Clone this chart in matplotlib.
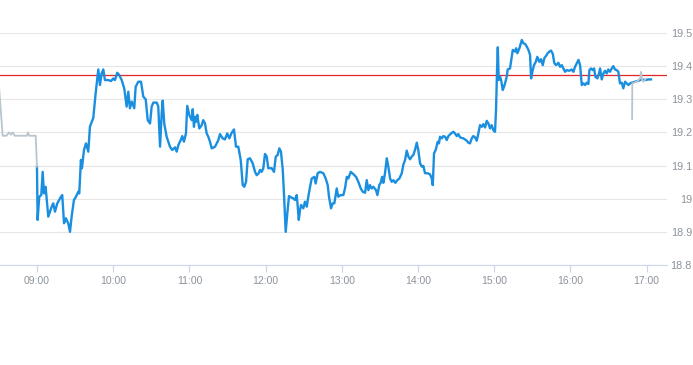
import matplotlib
matplotlib.use("Agg")
import matplotlib.pyplot as plt
from matplotlib.ticker import FixedLocator, FuncFormatter

# minutes after 08:00 and price
pre_min = [30, 33, 36, 38, 39.5, 41, 42.5, 52, 53, 54, 59, 60]
pre_px = [19.345, 19.19, 19.19, 19.20, 19.193, 19.20, 19.19, 19.19, 19.20, 19.19, 19.19, 19.097]

session_min = [
    60, 60.5, 61.8, 63.4, 64.5, 65.5, 66.8, 68.9, 71.6, 72.8, 74.2, 76, 78.9, 79.9, 81.3, 82.8,
    84.6, 86, 87.3, 89.1, 90.7, 92.5, 93.3, 94.6, 95.4, 97, 98.6, 100.4, 101.7, 103.1, 104.3,
    106.2, 108.3, 109.6, 110.9, 112.2, 113.5, 116.1, 118.3, 120.1, 121.4, 123.2, 124.8, 126.7,
    128.7, 130.6, 131.9, 133.2, 134.6, 136.6, 137.7, 139.8, 141.9, 143.7, 145.6, 147.2, 149,
    150.3, 151.6, 154.3, 155.5, 156.9, 158.2, 159, 160.2, 162.1, 164.7, 166.5, 168.7, 170,
    171.3, 173.2, 174.4, 175.7, 177.3, 178.3, 179.9, 181.8, 182.6, 183.6, 184.4, 185.2, 186.2,
    187.8, 189.7, 190.9, 192.3, 193.6, 194.9, 196.2, 197.6, 200.2, 202.8, 204.1, 206.2, 208,
    209.8, 211.4, 213.3, 215.1, 216.7, 218.5, 220.4, 222, 223.2, 224.6, 225.9, 227.7, 229.8,
    231.7, 233, 234.6, 235.6, 236.9, 238.2, 239.5, 240.9, 242.1, 244.8, 246.6, 248, 249.5,
    250.8, 252.1, 253.5, 254.7, 255.8, 257.1, 258.4, 260, 261.8, 263.1, 264.5, 265.3, 266.1,
    267.1, 267.9, 269.7, 271, 272.4, 273.6, 275, 276.3, 278.4, 279.4, 281, 282.8, 285.4, 287.3,
    288.9, 289.9, 291.5, 292.8, 294.1, 296, 297.2, 299.1, 301.2, 302.5, 303.9, 305.1, 307,
    309.1, 311.2, 313, 314.9, 316.5, 318.3, 319.6, 320.9, 322.2, 323.5, 324.8, 326.9, 328,
    329.5, 330.6, 331.7, 332.7, 334, 335.4, 336.6, 338, 339.3, 340.6, 342.1, 343.7, 345.3,
    347.2, 348.4, 349.8, 351.1, 352.4, 353.7, 355, 356.3, 357.6, 359, 360.2, 361.6, 362.9,
    364.2, 365.5, 367.3, 369.4, 370.8, 371.6, 372.6, 373.9, 375.5, 376.5, 377.3, 378.7, 379.9,
    381.3, 382.6, 383.9, 386, 387.8, 389.1, 390.5, 391.7, 393.1, 395.7, 398.4, 399.6, 400.9,
    402.3, 403.5, 404.9, 406.2, 407.5, 408.8, 410.2, 411.4, 412.8, 414.1, 415.4, 416.7, 418,
    419.3, 420.6, 421.4, 422.2, 422.8, 423.5, 424.6, 425.4, 426.7, 427.7, 428.5, 429.8, 430.6,
    432.4, 433.2, 434.6, 436.4, 437.2, 438.2, 439.8, 441.7, 442.9, 444.3, 445.6, 446.9, 448.2,
    449, 450, 451.3, 452.7, 453.9, 455.5, 456.8, 458.2, 459.4, 460.8, 462.1, 463.4, 464.7,
    466.1, 467.3, 468.7, 470.5, 471.8, 473.2, 474.4, 475.8, 477.1, 479.1, 481, 482.3, 483.6,
    485, 486.3, 487.6, 488.9, 490.2, 491.5, 492.8, 494.1, 494.9, 496.2, 497.5, 498.6, 499.6,
    501.2, 502.5, 503.3, 504.6, 505.9, 507.2, 508.5, 509.8, 511.1, 512.5, 513.7, 515.1, 516.4,
    517.7, 519, 520.4, 521.6, 523, 524.3, 525.6, 526.9, 528.2, 530.8, 533.5, 536.1, 538.7,
    541.3, 543.4,
]
session_px = [
    19.097, 18.936, 19.006, 19.011, 19.081, 19.016, 19.036, 18.946, 18.976, 18.986, 18.961,
    18.986, 19.006, 19.011, 18.926, 18.941, 18.926, 18.90, 18.946, 18.996, 19.006, 19.021,
    19.016, 19.117, 19.092, 19.147, 19.167, 19.142, 19.217, 19.232, 19.243, 19.318, 19.390,
    19.343, 19.378, 19.390, 19.358, 19.358, 19.355, 19.363, 19.358, 19.380, 19.373, 19.358,
    19.333, 19.278, 19.323, 19.273, 19.293, 19.273, 19.338, 19.353, 19.353, 19.308, 19.300,
    19.237, 19.227, 19.278, 19.290, 19.290, 19.278, 19.157, 19.258, 19.296, 19.227, 19.187,
    19.157, 19.147, 19.155, 19.142, 19.162, 19.177, 19.189, 19.172, 19.197, 19.280, 19.253,
    19.237, 19.270, 19.217, 19.247, 19.232, 19.253, 19.212, 19.222, 19.237, 19.227, 19.197,
    19.187, 19.172, 19.152, 19.157, 19.177, 19.195, 19.182, 19.179, 19.197, 19.182, 19.199,
    19.209, 19.157, 19.157, 19.117, 19.041, 19.036, 19.051, 19.119, 19.122, 19.107, 19.081,
    19.071, 19.077, 19.087, 19.081, 19.092, 19.135, 19.127, 19.092, 19.092, 19.081, 19.127,
    19.132, 19.152, 19.142, 19.087, 18.996, 18.90, 18.956, 19.008, 19.004, 19.001, 18.996,
    19.011, 18.976, 18.936, 18.966, 18.981, 18.971, 18.991, 18.976, 19.006, 19.036, 19.061,
    19.066, 19.046, 19.077, 19.081, 19.077, 19.061, 19.041, 19.006, 18.971, 18.986, 18.986,
    19.031, 19.006, 19.011, 19.011, 19.031, 19.066, 19.061, 19.081, 19.074, 19.066, 19.051,
    19.031, 19.021, 19.018, 19.056, 19.026, 19.041, 19.031, 19.036, 19.026, 19.011, 19.041,
    19.048, 19.066, 19.048, 19.077, 19.122, 19.097, 19.061, 19.051, 19.056, 19.048, 19.056,
    19.061, 19.077, 19.102, 19.117, 19.145, 19.127, 19.119, 19.127, 19.132, 19.147, 19.169,
    19.147, 19.107, 19.097, 19.099, 19.077, 19.077, 19.074, 19.061, 19.041, 19.137, 19.147,
    19.172, 19.167, 19.187, 19.182, 19.189, 19.187, 19.177, 19.189, 19.197, 19.202, 19.197,
    19.189, 19.195, 19.185, 19.182, 19.175, 19.169, 19.167, 19.182, 19.189, 19.185, 19.175,
    19.197, 19.222, 19.217, 19.225, 19.215, 19.235, 19.227, 19.212, 19.222, 19.207, 19.202,
    19.268, 19.388, 19.457, 19.358, 19.368, 19.358, 19.328, 19.338, 19.348, 19.368, 19.390,
    19.393, 19.413, 19.449, 19.444, 19.454, 19.439, 19.454, 19.479, 19.469, 19.467, 19.459,
    19.449, 19.434, 19.363, 19.383, 19.403, 19.413, 19.428, 19.413, 19.421, 19.403, 19.424,
    19.431, 19.439, 19.444, 19.447, 19.437, 19.409, 19.403, 19.410, 19.398, 19.403, 19.393,
    19.383, 19.388, 19.386, 19.390, 19.383, 19.398, 19.409, 19.419, 19.403, 19.343, 19.348,
    19.343, 19.350, 19.346, 19.388, 19.393, 19.388, 19.393, 19.368, 19.363, 19.378, 19.393,
    19.360, 19.378, 19.386, 19.378, 19.390, 19.383, 19.393, 19.400, 19.390, 19.388, 19.383,
    19.348, 19.350, 19.333, 19.353, 19.348, 19.343, 19.348, 19.350, 19.353, 19.356, 19.360,
    19.358, 19.360, 19.360,
]

post_min = [528.5, 528.7, 532.2, 534.8, 535.6, 536.4, 537.4, 538.7]
post_px = [19.24, 19.348, 19.353, 19.363, 19.383, 19.358, 19.353, 19.360]

prev_close = 19.373
hour_ticks = [60, 120, 180, 240, 300, 360, 420, 480, 540]
price_ticks = [18.8, 18.9, 19.0, 19.1, 19.2, 19.3, 19.4, 19.5]
price_labels = ["18.8", "18.9", "19", "19.1", "19.2", "19.3", "19.4", "19.5"]

plt.rcParams['font.family'] = ['Liberation Sans', 'DejaVu Sans']
fig = plt.figure(figsize=(6.93, 3.65), dpi=100)
ax = fig.add_axes([0, 1 - 265 / 365, 667 / 693, 232 / 365])

ax.plot(session_min, session_px, color='#1a8fe0', lw=1.7, zorder=3)
ax.plot(pre_min, pre_px, color='#b9c5cd', lw=1.3, zorder=3)
ax.plot(post_min, post_px, color='#b9c5cd', lw=1.3, zorder=4)
ax.axhline(prev_close, color='#e32626', lw=0.9, zorder=2)

ax.set_xlim(30.9, 556)
ax.set_ylim(18.8, 19.5)
ax.yaxis.set_major_locator(FixedLocator(price_ticks))
ax.set_yticklabels(price_labels)
ax.yaxis.tick_right()
ax.grid(axis='y', color='#e6e6e6', lw=0.8)
ax.xaxis.set_major_locator(FixedLocator(hour_ticks))
ax.xaxis.set_major_formatter(FuncFormatter(lambda m, pos: "%02d:00" % (8 + int(m) // 60)))

for s in ['top', 'left', 'right']:
    ax.spines[s].set_visible(False)
ax.spines['bottom'].set_color('#ccd6eb')
ax.tick_params(axis='x', colors='#ccd6eb', labelcolor='#8c939c', length=5, width=0.8,
               labelsize=7.5, pad=3)
ax.tick_params(axis='y', length=0, labelcolor='#8c939c', labelsize=7.8, pad=18)
for lab in ax.get_yticklabels():
    lab.set_horizontalalignment('right')

fig.savefig('out.png', dpi=100)
